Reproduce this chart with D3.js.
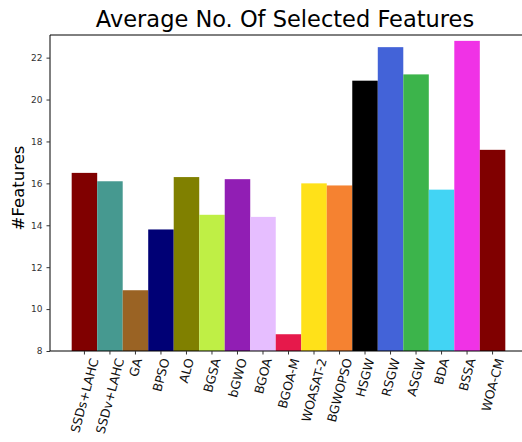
<!DOCTYPE html>
<html>
<head>
<meta charset="utf-8">
<script src="https://cdn.jsdelivr.net/npm/d3@7"></script>
<style>
  html, body { margin: 0; padding: 0; background: #fff; }
  svg { display: block; }
  text { font-family: "DejaVu Sans", sans-serif; }
</style>
</head>
<body>
<svg id="chart" width="522" height="442"></svg>
<script>
// Algorithms compared
const methods = ["SSDs+LAHC", "SSDv+LAHC", "GA", "BPSO", "ALO", "BGSA", "bGWO", "BGOA",
  "BGOA-M", "WOASAT-2", "BGWOPSO", "HSGW", "RSGW", "ASGW", "BDA", "BSSA", "WOA-CM"];

// Average number of selected features per method
const avgFeatures = [16.5, 16.1, 10.9, 13.8, 16.3, 14.5, 16.2, 14.4,
  8.8, 16.0, 15.9, 20.9, 22.5, 21.2, 15.7, 22.8, 17.6];

// Bar fill colours, one per method
const barColors = ["#800000", "#469990", "#9a6324", "#000075", "#808000", "#bfef45", "#911eb4", "#e6beff",
  "#e6194b", "#ffe119", "#f58231", "#000000", "#4363d8", "#3cb44b", "#42d4f4", "#f032e6", "#800000"];

const yTicks = [8, 10, 12, 14, 16, 18, 20, 22];
const yRange = [8, 23.08];

const svg = d3.select("#chart");

// Axes frame; the right side runs past the viewport edge
const frame = { left: 50, top: 35, bottom: 351, right: 527 };

// Bars sit edge to edge with a 0.85-bar margin on either side
const n = methods.length;
const step = (frame.right - frame.left) / (n + 1.7);
const x = d3.scaleBand()
  .domain(methods)
  .range([frame.left + 0.85 * step, frame.right - 0.85 * step])
  .paddingInner(0).paddingOuter(0);

const y = d3.scaleLinear().domain(yRange).range([frame.bottom, frame.top]);

// Bars
svg.append("g").selectAll("rect")
  .data(methods)
  .join("rect")
  .attr("x", d => x(d))
  .attr("y", (d, i) => y(avgFeatures[i]))
  .attr("width", x.bandwidth())
  .attr("height", (d, i) => y(yRange[0]) - y(avgFeatures[i]))
  .attr("fill", (d, i) => barColors[i]);

// Spines
const spine = (x1, y1, x2, y2) => svg.append("line")
  .attr("x1", x1).attr("y1", y1).attr("x2", x2).attr("y2", y2)
  .attr("stroke", "#000").attr("stroke-width", 1);
spine(frame.left, frame.top, frame.left, frame.bottom);
spine(frame.left, frame.top, frame.right, frame.top);
spine(frame.left, frame.bottom, frame.right, frame.bottom);

// Y axis
const yAxis = svg.append("g")
  .attr("transform", `translate(${frame.left},0)`)
  .call(d3.axisLeft(y).tickValues(yTicks).tickSize(3.5).tickPadding(4).tickFormat(d3.format("d")));
yAxis.select(".domain").remove();
yAxis.selectAll(".tick line").attr("stroke", "#333");
yAxis.selectAll(".tick text")
  .attr("font-family", "DejaVu Sans, sans-serif")
  .attr("font-size", 9)
  .attr("fill", "#333");

// X axis ticks
const xAxis = svg.append("g")
  .attr("transform", `translate(0,${frame.bottom})`)
  .call(d3.axisBottom(x).tickSize(3.5).tickFormat(""));
xAxis.select(".domain").remove();
xAxis.selectAll(".tick line").attr("stroke", "#333");

// X tick labels rotated 75°, each centred beneath its tick
const angle = 75 * Math.PI / 180;
const labelFont = 12.5;
const labelTop = 357;
const labels = svg.append("g").selectAll("text")
  .data(methods)
  .join("text")
  .attr("font-size", labelFont)
  .attr("fill", "#111")
  .attr("text-anchor", "middle")
  .attr("dominant-baseline", "central")
  .text(d => d);
labels.each(function(d) {
  const w = this.getComputedTextLength();
  const h = labelFont * 1.0;
  const boxH = w * Math.sin(angle) + h * Math.cos(angle);
  const cx = x(d) + x.bandwidth() / 2;
  const cy = labelTop + boxH / 2;
  d3.select(this).attr("transform", `translate(${cx},${cy}) rotate(-75)`);
});

// Title
svg.append("text")
  .attr("x", 285)
  .attr("y", 27)
  .attr("text-anchor", "middle")
  .attr("font-size", 22.5)
  .attr("fill", "#000")
  .text("Average No. Of Selected Features");

// Y axis label
svg.append("text")
  .attr("transform", "translate(24,188) rotate(-90)")
  .attr("text-anchor", "middle")
  .attr("font-size", 16.5)
  .attr("fill", "#000")
  .text("#Features");
</script>
</body>
</html>
